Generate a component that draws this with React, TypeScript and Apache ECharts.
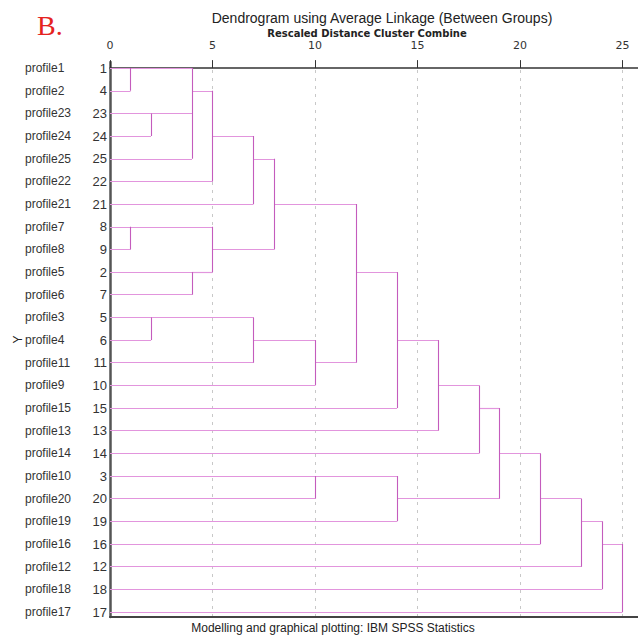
import React, { useEffect, useRef } from "react";
import * as echarts from "echarts";

const leafNames = [
  "profile1", "profile2", "profile23", "profile24", "profile25", "profile22", "profile21",
  "profile7", "profile8", "profile5", "profile6", "profile3", "profile4", "profile11",
  "profile9", "profile15", "profile13", "profile14", "profile10", "profile20", "profile19",
  "profile16", "profile12", "profile18", "profile17",
];
const leafIds = [1, 4, 23, 24, 25, 22, 21, 8, 9, 2, 7, 5, 6, 11, 10, 15, 13, 14, 3, 20, 19, 16, 12, 18, 17];

// merges: node indices (leaves 0..24 by row, merges numbered 25+ in order)
const mergeChildren = [
  [0, 1], [2, 3], [7, 8], [11, 12], [25, 26, 4], [9, 10], [29, 5], [27, 30], [31, 6],
  [28, 13], [33, 32], [34, 14], [18, 19], [35, 36], [38, 15], [37, 20], [39, 16],
  [41, 17], [42, 40], [43, 21], [44, 22], [45, 23], [46, 24],
];
const mergeDistance = [1, 2, 1, 2, 4, 4, 5, 5, 7, 7, 8, 10, 10, 12, 14, 14, 16, 18, 19, 21, 23, 24, 25];
const mergeRow = [0, 2, 7, 11, 1, 9, 3, 8, 4, 12, 6, 13, 18, 9, 12, 19, 14, 15, 17, 19, 20, 21, 21];

const xTicks = [0, 5, 10, 15, 20, 25];

const FONT = "'Liberation Sans', Arial, sans-serif";
const FONT_WIDE = "'DejaVu Sans', Verdana, sans-serif";

function buildSegments() {
  const nodeX: number[] = leafNames.map(() => 0);
  const nodeRow: number[] = leafNames.map((_, i) => i);
  const horiz: any[] = [];
  const vert: any[] = [];
  mergeChildren.forEach((children, j) => {
    const d = mergeDistance[j];
    const rows = children.map((c) => nodeRow[c]);
    children.forEach((c) => {
      horiz.push({ coords: [[nodeX[c], nodeRow[c]], [d, nodeRow[c]]] });
    });
    vert.push({ coords: [[d, Math.min(...rows)], [d, Math.max(...rows)]] });
    nodeX.push(d);
    nodeRow.push(mergeRow[j]);
  });
  return { horiz, vert };
}

export default function App() {
  const ref = useRef<HTMLDivElement>(null);
  useEffect(() => {
    if (!ref.current) return;
    const chart = echarts.init(ref.current, undefined, { renderer: "svg" });
    const { horiz, vert } = buildSegments();
    chart.setOption({
      animation: false,
      backgroundColor: "#ffffff",
      grid: {
        left: 110,
        right: 0,
        top: 62,
        bottom: 18,
        containLabel: false,
        outerBoundsMode: "none",
      },
      title: [
        {
          text: "Dendrogram using Average Linkage (Between Groups)",
          left: 382,
          top: 10,
          padding: 0,
          textAlign: "center",
          textStyle: { fontFamily: FONT, fontSize: 14, fontWeight: "normal", color: "#222", lineHeight: 15 },
        },
        {
          text: "Rescaled Distance Cluster Combine",
          left: 367,
          top: 28,
          padding: 0,
          textAlign: "center",
          textStyle: { fontFamily: FONT_WIDE, fontSize: 10, fontWeight: "bold", color: "#222", lineHeight: 11 },
        },
        {
          text: "Modelling and graphical plotting: IBM SPSS Statistics",
          left: 333,
          top: 622,
          padding: 0,
          textAlign: "center",
          textStyle: { fontFamily: FONT, fontSize: 12, fontWeight: "normal", color: "#222", lineHeight: 12 },
        },
      ],
      graphic: [
        {
          type: "text",
          left: 37,
          top: 11,
          style: {
            text: "B.",
            fill: "#e5231f",
            font: "28px 'Liberation Serif', 'DejaVu Serif', serif",
          },
        },
      ],
      xAxis: [
        {
          type: "value",
          position: "top",
          min: 0,
          max: 25.756,
          interval: 5,
          axisLine: { show: true, lineStyle: { color: "#333", width: 1.5 } },
          axisTick: { show: true, length: 8, inside: false, lineStyle: { color: "#333" }, customValues: xTicks },
          axisLabel: {
            customValues: xTicks,
            margin: 11,
            fontFamily: FONT_WIDE,
            fontSize: 11,
            lineHeight: 11,
            color: "#333",
          },
          splitLine: {
            show: true,
            lineStyle: { color: "#c8c8c8", type: [3, 5], width: 1 },
          },
        },
        {
          type: "value",
          position: "bottom",
          min: 0,
          max: 25.756,
          axisLine: { show: true, onZero: false, lineStyle: { color: "#444", width: 2 } },
          axisTick: { show: false },
          axisLabel: { show: false },
          splitLine: { show: false },
        },
      ],
      yAxis: {
        type: "value",
        inverse: true,
        min: -0.27,
        max: 24.22,
        name: "Y",
        nameLocation: "middle",
        nameRotate: 90,
        nameGap: 86,
        nameMoveOverlap: false,
        nameTextStyle: { fontFamily: FONT, fontSize: 12, color: "#222" },
        axisLine: { show: true, onZero: false, lineStyle: { color: "#555", width: 2.5 } },
        axisTick: { show: false },
        splitLine: { show: false },
        axisLabel: {
          customValues: leafNames.map((_, i) => i),
          margin: 3,
          formatter: (v: number) => {
            const i = Math.round(v);
            return `{n|${leafNames[i]}}{i|${leafIds[i]}}`;
          },
          rich: {
            n: { width: 62, align: "left", fontFamily: FONT, fontSize: 12, color: "#333" },
            i: { width: 20, align: "right", fontFamily: FONT, fontSize: 13, color: "#333" },
          },
        },
      },
      series: [
        {
          type: "lines",
          coordinateSystem: "cartesian2d",
          xAxisIndex: 0,
          yAxisIndex: 0,
          silent: true,
          lineStyle: { color: "#e295dd", width: 1.2, opacity: 1 },
          data: horiz,
        },
        {
          type: "lines",
          coordinateSystem: "cartesian2d",
          xAxisIndex: 0,
          yAxisIndex: 0,
          silent: true,
          lineStyle: { color: "#c45cbd", width: 1.1, opacity: 1 },
          data: vert,
        },
      ],
    });
    return () => chart.dispose();
  }, []);
  return (
    <div
      ref={ref}
      style={{ position: "fixed", left: 0, top: 0, width: 638, height: 635, background: "#fff" }}
    />
  );
}
